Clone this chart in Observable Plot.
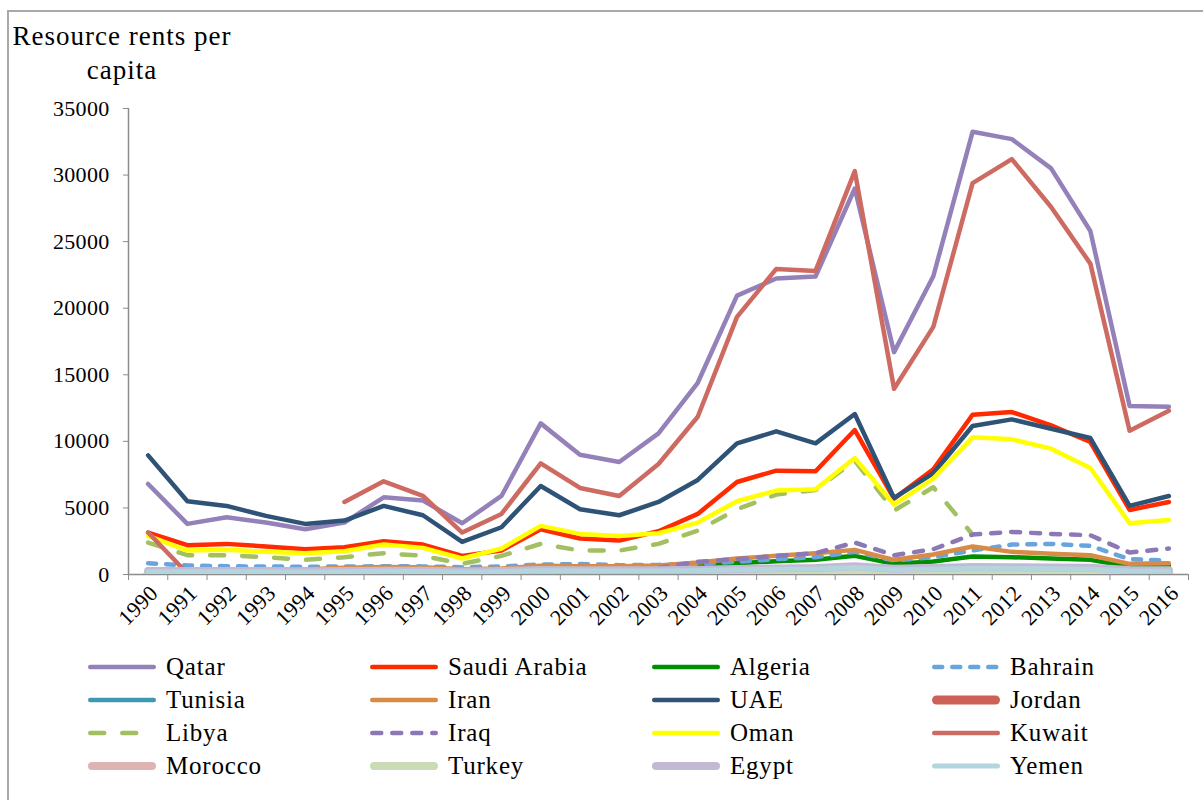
<!DOCTYPE html>
<html>
<head>
<meta charset="utf-8">
<script src="https://cdn.jsdelivr.net/npm/d3@7"></script>
<script src="https://cdn.jsdelivr.net/npm/@observablehq/plot@0.6"></script>
<style>
  body { margin: 0; background: #fff; width: 1203px; height: 800px; overflow: hidden; position: relative; font-family: "Liberation Serif", serif; color: #000; }
  #frame { position: absolute; left: 7px; top: 10px; width: 1300px; height: 900px; border: 2px solid #a9a9a9; box-sizing: border-box; }
  #chart { position: absolute; left: 0; top: 0; }
  #title { position: absolute; left: 12px; top: 19px; width: 220px; text-align: center; font-size: 27px; letter-spacing: 1px; line-height: 34px; }
  .item { position: absolute; height: 30px; display: flex; align-items: center; font-size: 25px; letter-spacing: 0.8px; white-space: nowrap; }
  .item svg { flex: none; margin-right: 6px; }
</style>
</head>
<body>
<div id="frame"></div>
<div id="chart"></div>
<div id="title">Resource rents per<br>capita</div>
<div id="legend"></div>
<script>
// Years on the category axis
const years = [1990, 1991, 1992, 1993, 1994, 1995, 1996, 1997, 1998, 1999, 2000, 2001, 2002,
  2003, 2004, 2005, 2006, 2007, 2008, 2009, 2010, 2011, 2012, 2013, 2014, 2015, 2016];
const yTicks = [0, 5000, 10000, 15000, 20000, 25000, 30000, 35000];

// Resource rents per capita, by country (null = no data)
const qatar = [6800, 3800, 4300, 3900, 3400, 3900, 5800, 5550, 3850, 5900, 11350, 9000, 8450,
  10600, 14400, 20950, 22230, 22380, 28990, 16700, 22400, 33250, 32700, 30500, 25800, 12650, 12600];
const saudiArabia = [3150, 2200, 2300, 2100, 1900, 2050, 2500, 2250, 1400, 1800, 3400, 2700, 2550,
  3250, 4550, 6950, 7800, 7750, 10850, 5700, 7900, 12000, 12200, 11200, 9950, 4850, 5450];
const algeria = [300, 300, 300, 300, 280, 300, 330, 330, 250, 300, 450, 420, 400,
  500, 650, 850, 1000, 1100, 1400, 800, 980, 1350, 1300, 1200, 1100, 600, 650];
const bahrain = [850, 680, 620, 600, 580, 600, 620, 610, 550, 600, 750, 780, 700,
  720, 800, 950, 1150, 1300, 1700, 1050, 1300, 1800, 2250, 2300, 2150, 1150, 1050];
const tunisia = [150, 130, 130, 120, 110, 120, 140, 130, 90, 110, 180, 160, 150,
  170, 220, 280, 320, 350, 480, 300, 350, 400, 380, 360, 330, 200, 200];
const iran = [350, 350, 380, 380, 380, 500, 560, 540, 400, 450, 650, 620, 620,
  680, 900, 1200, 1400, 1600, 1850, 1100, 1500, 2100, 1700, 1550, 1450, 800, 850];
const uae = [8950, 5500, 5150, 4400, 3800, 4050, 5150, 4450, 2450, 3550, 6650, 4900, 4450,
  5450, 7100, 9850, 10750, 9850, 12050, 5750, 7600, 11150, 11650, 10950, 10250, 5150, 5900];
const jordan = [30, 20, 20, 20, 20, 20, 25, 25, 15, 20, 30, 25, 25,
  30, 35, 45, 50, 60, 90, 50, 60, 80, 70, 60, 55, 30, 30];
const libya = [2400, 1450, 1450, 1300, 1100, 1300, 1600, 1400, 800, 1400, 2300, 1800, 1800,
  2300, 3300, 4900, 6000, 6350, 8550, 4800, 6550, 3000, null, null, null, null, null];
const iraq = [null, null, null, null, null, null, null, null, null, null, null, null, null,
  500, 950, 1150, 1400, 1600, 2400, 1450, 1900, 3000, 3200, 3050, 2950, 1650, 1950];
const oman = [2900, 1800, 1850, 1700, 1600, 1750, 2250, 2000, 1200, 1950, 3650, 3050, 2900,
  3100, 3900, 5500, 6300, 6400, 8750, 5250, 7200, 10300, 10150, 9450, 8000, 3850, 4100];
const kuwait = [3150, 80, null, null, null, 5450, 7000, 5900, 3150, 4550, 8350, 6500, 5900,
  8300, 11850, 19350, 22950, 22800, 30300, 13950, 18600, 29400, 31200, 27600, 23350, 10800, 12300];
const morocco = [60, 55, 55, 50, 50, 55, 60, 60, 45, 50, 70, 65, 60,
  65, 80, 100, 110, 120, 160, 100, 120, 150, 140, 130, 120, 80, 80];
const turkey = [80, 70, 70, 70, 65, 70, 80, 75, 60, 70, 90, 85, 80,
  85, 100, 120, 130, 140, 180, 120, 140, 170, 160, 150, 140, 100, 100];
const egypt = [270, 270, 270, 260, 250, 260, 290, 280, 230, 260, 340, 320, 310,
  320, 360, 420, 460, 490, 620, 440, 480, 560, 550, 530, 500, 340, 320];
const yemen = [210, 200, 210, 200, 190, 210, 240, 230, 180, 210, 290, 270, 260,
  270, 300, 360, 390, 420, 520, 360, 400, 470, 450, 430, 400, 260, 240];

const countries = ["Qatar", "Saudi Arabia", "Algeria", "Bahrain", "Tunisia", "Iran", "UAE", "Jordan",
  "Libya", "Iraq", "Oman", "Kuwait", "Morocco", "Turkey", "Egypt", "Yemen"];
const seriesValues = [qatar, saudiArabia, algeria, bahrain, tunisia, iran, uae, jordan,
  libya, iraq, oman, kuwait, morocco, turkey, egypt, yemen];

// Line style for each series, in drawing order
const styles = [
  {color: "#9581b9", width: 4.5},
  {color: "#ff2a00", width: 4.5},
  {color: "#008f00", width: 4.5},
  {color: "#6aa4dc", width: 4.5, dash: "8,10"},
  {color: "#3f98b4", width: 4.5},
  {color: "#d88b45", width: 4.5},
  {color: "#2f5277", width: 4.5},
  {color: "#cd6057", width: 9},
  {color: "#a2c062", width: 4.5, dash: "14,18"},
  {color: "#8d78b6", width: 4.5, dash: "9,11"},
  {color: "#ffff00", width: 4.5},
  {color: "#cd6a61", width: 4.5},
  {color: "#e0b3b3", width: 8},
  {color: "#ccdbb7", width: 8},
  {color: "#c4b9d4", width: 8},
  {color: "#b2d5de", width: 5}
];

const rows = countries.map((c, i) =>
  years.map((y, j) => ({country: c, year: y, value: seriesValues[i][j]})));

const bounds = d3.range(years.length + 1).map(i => years[0] - 0.5 + i);

// Lines are clipped to the plot area, so the thick near-zero series stop at the axis
const lineMarks = rows.map((data, i) => Plot.line(data, {
  x: "year", y: "value",
  stroke: styles[i].color,
  strokeWidth: styles[i].width,
  strokeDasharray: styles[i].dash,
  strokeLinecap: "round",
  strokeLinejoin: "round",
  clip: true
}));

const chart = Plot.plot({
  width: 1203,
  height: 650,
  marginLeft: 128,
  marginRight: 15,
  marginTop: 108,
  marginBottom: 76,
  style: {fontFamily: "Liberation Serif", fontSize: "22px", letterSpacing: "0.3px", color: "#000", background: "transparent", overflow: "visible"},
  x: {type: "linear", domain: [years[0] - 0.5, years[years.length - 1] + 0.5]},
  y: {domain: [0, 35000]},
  marks: [
    Plot.axisY({ticks: yTicks, tickSize: 5, tickPadding: 14, stroke: "#8c8c8c", tickFormat: d => String(d), label: null}),
    Plot.axisX({ticks: bounds, tickSize: 6, stroke: "#8c8c8c", tickFormat: () => "", label: null}),
    Plot.text(years, {x: d => d, text: d => String(d), frameAnchor: "bottom", rotate: -45, textAnchor: "end", dx: 11, dy: 20, fill: "#000"}),
    Plot.ruleX([years[0] - 0.5], {stroke: "#8c8c8c", strokeWidth: 1.5}),
    Plot.ruleY([0], {stroke: "#8c8c8c", strokeWidth: 1.5}),
    ...lineMarks
  ]
});
document.getElementById("chart").appendChild(chart);

// Legend: four columns, four rows
const legend = document.getElementById("legend");
const colX = [84, 366, 648, 928];
const rowY = [667, 700, 733, 766];
countries.forEach((c, i) => {
  const s = styles[i];
  const item = document.createElement("div");
  item.className = "item";
  item.style.left = colX[i % 4] + "px";
  item.style.top = (rowY[Math.floor(i / 4)] - 15) + "px";
  const svg = d3.create("svg").attr("width", 76).attr("height", 14);
  svg.append("line")
    .attr("x1", 4 + s.width / 2).attr("x2", 72 - s.width / 2)
    .attr("y1", 7).attr("y2", 7)
    .attr("stroke", s.color).attr("stroke-width", s.width)
    .attr("stroke-linecap", "round")
    .attr("stroke-dasharray", s.dash || null);
  item.appendChild(svg.node());
  const label = document.createElement("span");
  label.textContent = c;
  item.appendChild(label);
  legend.appendChild(item);
});
</script>
</body>
</html>
